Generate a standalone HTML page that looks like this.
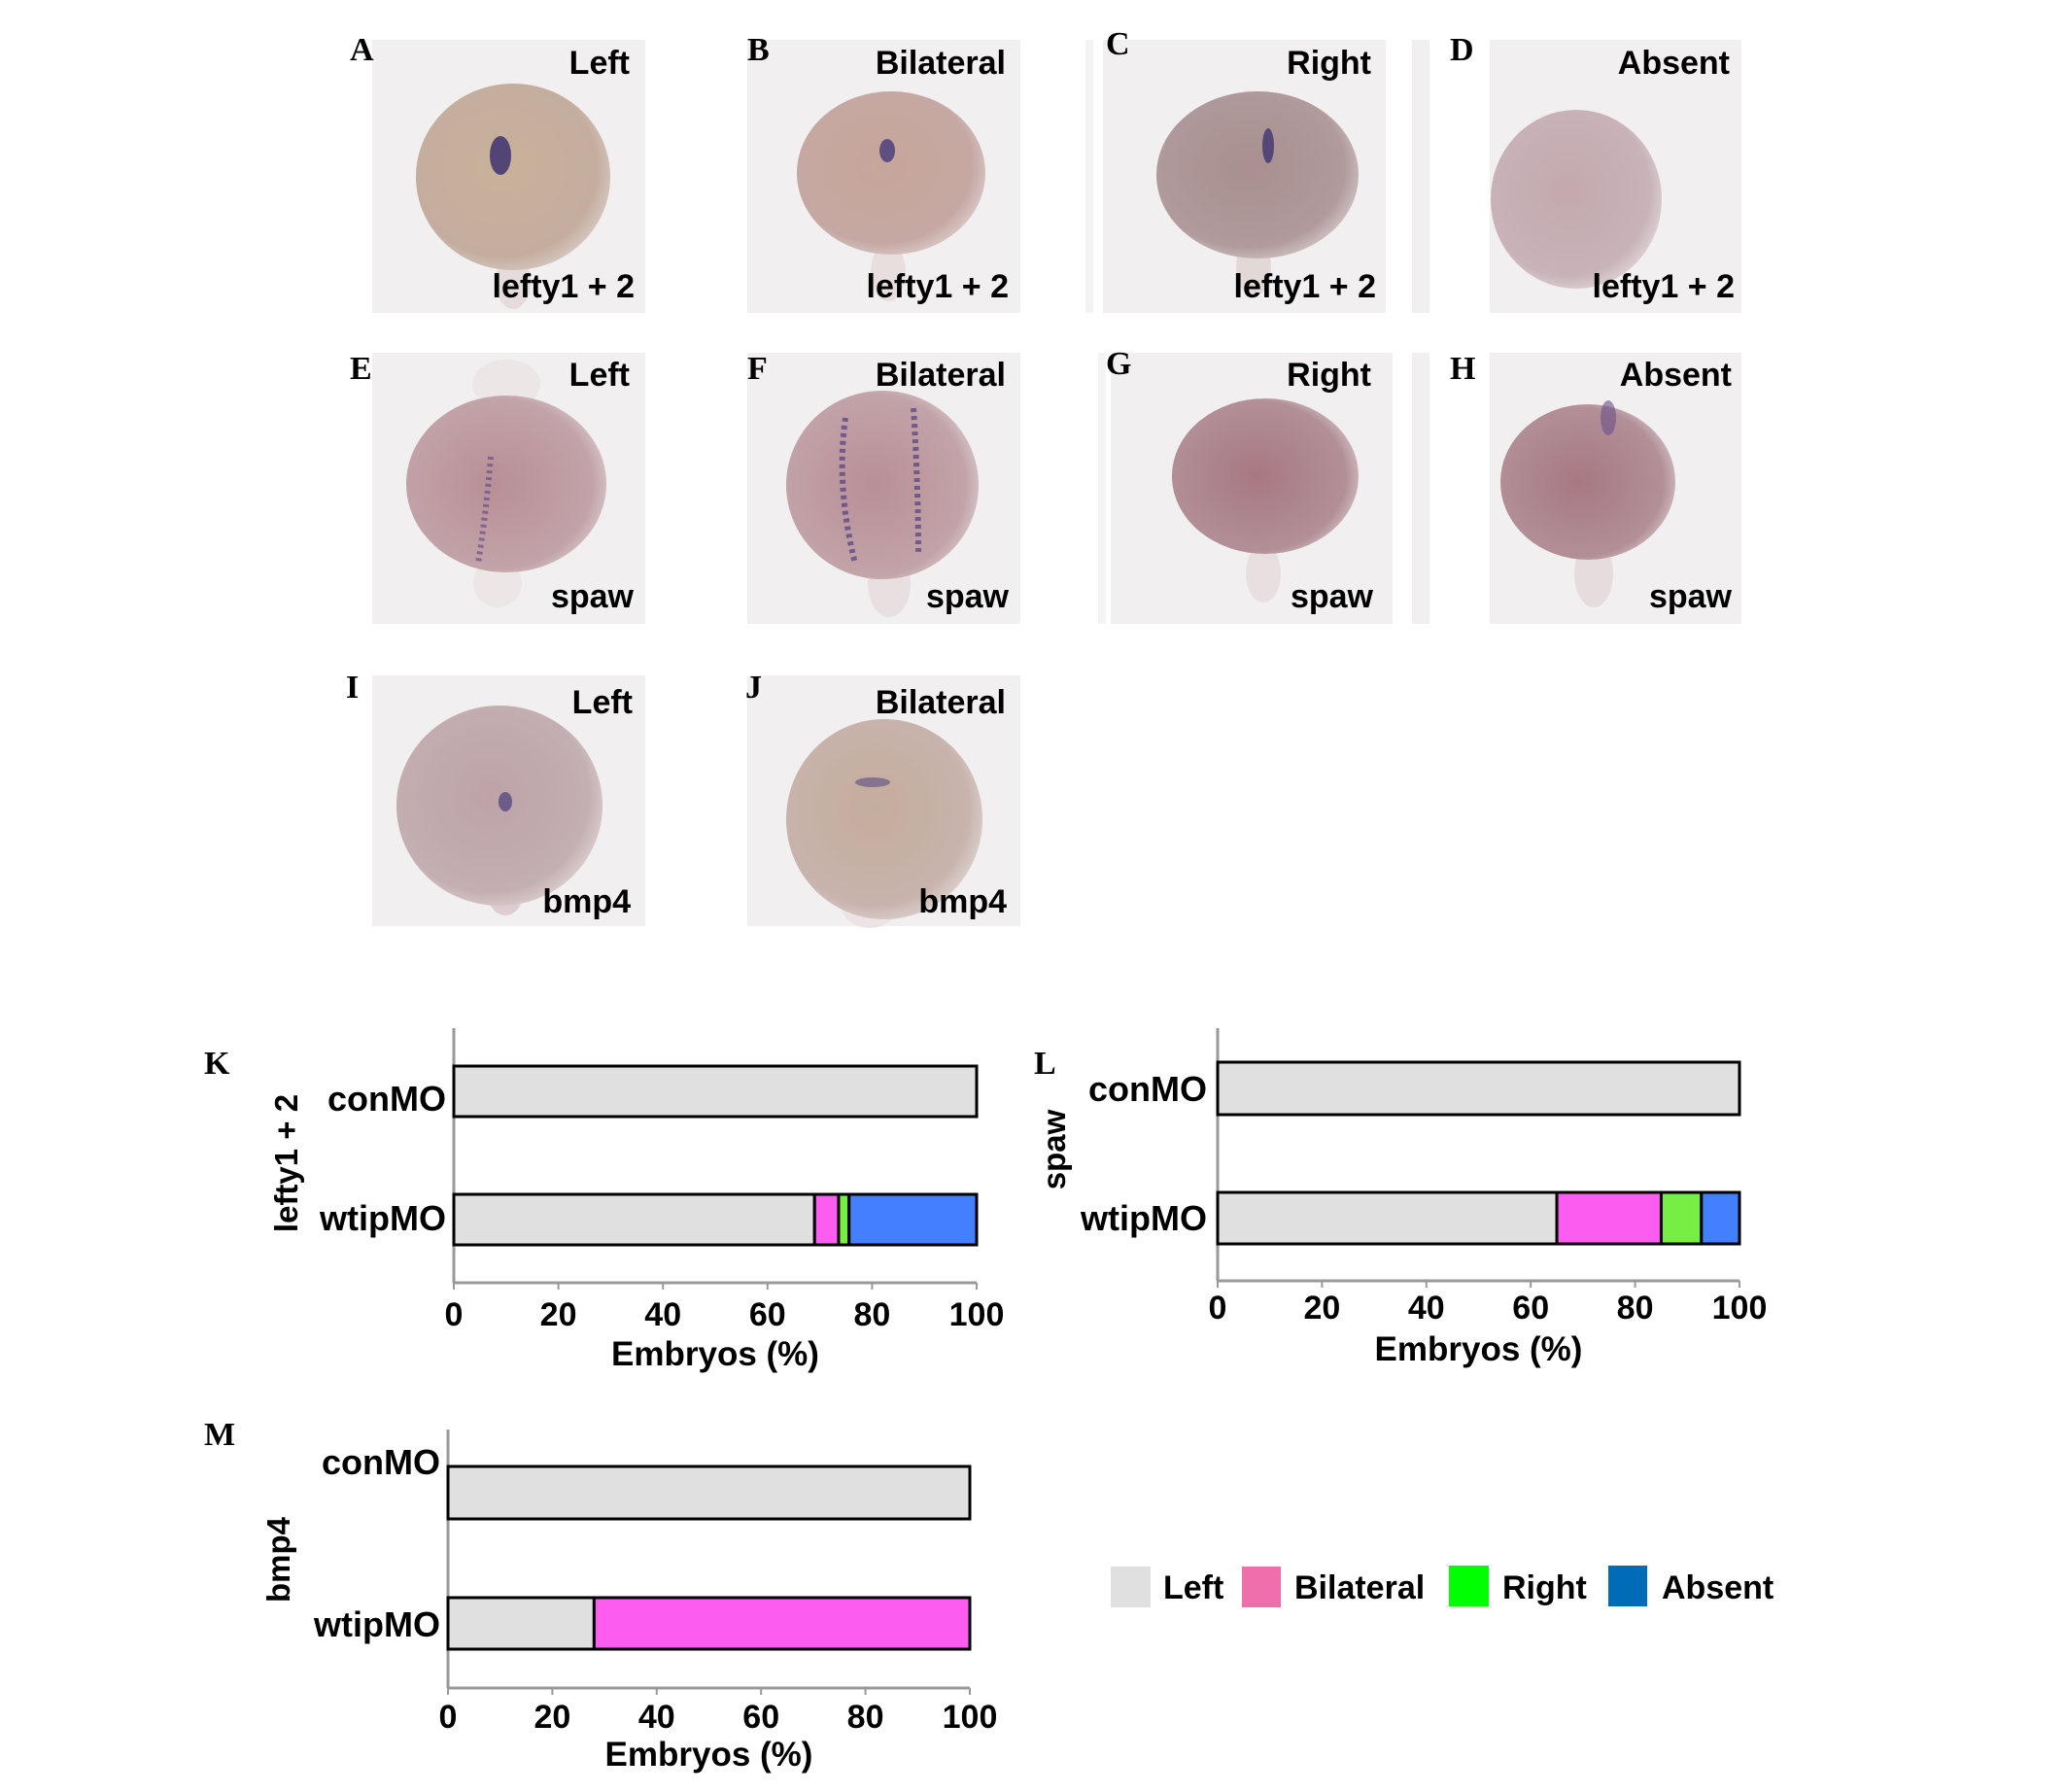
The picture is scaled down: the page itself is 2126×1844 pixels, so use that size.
<!DOCTYPE html>
<html><head><meta charset="utf-8"><style>
html,body{margin:0;padding:0;background:#fff}
svg{display:block}
text{font-family:"Liberation Sans",sans-serif;font-weight:bold;fill:#000}
.lt{font-family:"Liberation Serif",serif;font-weight:bold;font-size:34px}
</style></head><body>
<svg id="fig" width="2126" height="1844" viewBox="0 0 2126 1844" xmlns="http://www.w3.org/2000/svg">
<defs>
<radialGradient id="gA" cx="0.45" cy="0.45" r="0.6"><stop offset="0" stop-color="#c8b299"/><stop offset="0.8" stop-color="#c4ad9e"/><stop offset="1" stop-color="#d9ccc8"/></radialGradient>
<radialGradient id="gB" cx="0.45" cy="0.45" r="0.6"><stop offset="0" stop-color="#c7a69a"/><stop offset="0.8" stop-color="#c5a8a3"/><stop offset="1" stop-color="#dccdcc"/></radialGradient>
<radialGradient id="gC" cx="0.45" cy="0.45" r="0.6"><stop offset="0" stop-color="#a98f8f"/><stop offset="0.8" stop-color="#b09a9b"/><stop offset="1" stop-color="#d3c7c9"/></radialGradient>
<radialGradient id="gD" cx="0.45" cy="0.45" r="0.6"><stop offset="0" stop-color="#c3a9ae"/><stop offset="0.8" stop-color="#c8b3b8"/><stop offset="1" stop-color="#e0d6d8"/></radialGradient>
<radialGradient id="gE" cx="0.45" cy="0.5" r="0.6"><stop offset="0" stop-color="#b98f97"/><stop offset="0.8" stop-color="#c1a3a8"/><stop offset="1" stop-color="#dccfd1"/></radialGradient>
<radialGradient id="gG" cx="0.45" cy="0.5" r="0.6"><stop offset="0" stop-color="#a77882"/><stop offset="0.8" stop-color="#b28f97"/><stop offset="1" stop-color="#d8c9cc"/></radialGradient>
<radialGradient id="gI" cx="0.45" cy="0.45" r="0.6"><stop offset="0" stop-color="#bda3a8"/><stop offset="0.8" stop-color="#c3aeb1"/><stop offset="1" stop-color="#ddd2d3"/></radialGradient>
<radialGradient id="gJ" cx="0.45" cy="0.45" r="0.6"><stop offset="0" stop-color="#c4ad9c"/><stop offset="0.8" stop-color="#c8b3ad"/><stop offset="1" stop-color="#ded4d2"/></radialGradient>
</defs>

<g>
<rect x="383" y="41" width="281" height="281" fill="#f1efef"/>
<ellipse cx="528" cy="290" rx="18" ry="28" fill="#e6dcdc"/>
<ellipse cx="528" cy="182" rx="100" ry="96" fill="url(#gA)"/>
<ellipse cx="515" cy="160" rx="11" ry="20" fill="#3d3270" opacity="0.85"/>
<text x="648" y="76" font-size="34" text-anchor="end">Left</text>
<text x="653" y="306" font-size="34" text-anchor="end">lefty1 + 2</text>
</g>
<text class="lt" x="360" y="62">A</text>

<g>
<rect x="769" y="41" width="281" height="281" fill="#f1efef"/>
<ellipse cx="914" cy="280" rx="18" ry="30" fill="#e8dede"/>
<ellipse cx="917" cy="178" rx="97" ry="84" fill="url(#gB)"/>
<ellipse cx="913" cy="155" rx="8" ry="12" fill="#45387a" opacity="0.8"/>
<text x="1035" y="76" font-size="34" text-anchor="end">Bilateral</text>
<text x="1038" y="306" font-size="34" text-anchor="end">lefty1 + 2</text>
</g>
<text class="lt" x="769" y="62">B</text>

<g>
<rect x="1117" y="41" width="8" height="281" fill="#f3f3f3"/>
<rect x="1135" y="41" width="291" height="281" fill="#f1efef"/>
<ellipse cx="1290" cy="275" rx="18" ry="30" fill="#e3d8d8"/>
<ellipse cx="1294" cy="180" rx="104" ry="86" fill="url(#gC)"/>
<ellipse cx="1305" cy="150" rx="6" ry="18" fill="#3f3571" opacity="0.8"/>
<text x="1411" y="76" font-size="34" text-anchor="end">Right</text>
<text x="1416" y="306" font-size="34" text-anchor="end">lefty1 + 2</text>
</g>
<text class="lt" x="1138" y="56">C</text>

<g>
<rect x="1453" y="41" width="18" height="281" fill="#f1efef"/>
<rect x="1533" y="41" width="259" height="281" fill="#f1efef"/>
<ellipse cx="1622" cy="205" rx="88" ry="92" fill="url(#gD)"/>
<text x="1780" y="76" font-size="34" text-anchor="end">Absent</text>
<text x="1785" y="306" font-size="34" text-anchor="end">lefty1 + 2</text>
</g>
<text class="lt" x="1492" y="62">D</text>

<g>
<rect x="383" y="363" width="281" height="279" fill="#f1efef"/>
<ellipse cx="521" cy="395" rx="35" ry="25" fill="#ece6e6"/>
<ellipse cx="512" cy="600" rx="25" ry="25" fill="#ece6e6"/>
<ellipse cx="521" cy="498" rx="103" ry="91" fill="url(#gE)"/>
<path d="M505 470 Q500 530 492 580" stroke="#5a4580" stroke-width="6" fill="none" stroke-dasharray="3 4" opacity="0.6"/>
<text x="652" y="625" font-size="34" text-anchor="end">spaw</text>
<text x="648" y="397" font-size="34" text-anchor="end">Left</text>
</g>
<text class="lt" x="360" y="390">E</text>

<g>
<rect x="769" y="363" width="281" height="279" fill="#f1efef"/>
<ellipse cx="915" cy="600" rx="22" ry="35" fill="#e8dfe0"/>
<ellipse cx="908" cy="499" rx="99" ry="97" fill="url(#gE)"/>
<path d="M870 430 Q860 500 880 580 M940 420 Q945 500 945 570" stroke="#4e3f85" stroke-width="6" fill="none" stroke-dasharray="4 4" opacity="0.7"/>
<text x="1035" y="397" font-size="34" text-anchor="end">Bilateral</text>
<text x="1038" y="625" font-size="34" text-anchor="end">spaw</text>
</g>
<text class="lt" x="769" y="390">F</text>

<g>
<rect x="1130" y="363" width="8" height="279" fill="#f4f4f4"/>
<rect x="1143" y="363" width="290" height="279" fill="#f1efef"/>
<ellipse cx="1300" cy="590" rx="18" ry="30" fill="#e8dfe0"/>
<ellipse cx="1302" cy="490" rx="96" ry="80" fill="url(#gG)"/>
<text x="1411" y="397" font-size="34" text-anchor="end">Right</text>
<text x="1413" y="625" font-size="34" text-anchor="end">spaw</text>
</g>
<text class="lt" x="1138" y="385">G</text>

<g>
<rect x="1453" y="363" width="18" height="279" fill="#f1efef"/>
<rect x="1533" y="363" width="259" height="279" fill="#f1efef"/>
<ellipse cx="1640" cy="590" rx="20" ry="35" fill="#e6dcdd"/>
<ellipse cx="1634" cy="496" rx="90" ry="80" fill="url(#gG)"/>
<ellipse cx="1655" cy="430" rx="8" ry="18" fill="#6a4e8a" opacity="0.6"/>
<text x="1782" y="397" font-size="34" text-anchor="end">Absent</text>
<text x="1782" y="625" font-size="34" text-anchor="end">spaw</text>
</g>
<text class="lt" x="1492" y="390">H</text>

<g>
<rect x="383" y="695" width="281" height="258" fill="#f1efef"/>
<ellipse cx="520" cy="920" rx="18" ry="22" fill="#ddcdd0"/>
<ellipse cx="514" cy="829" rx="106" ry="103" fill="url(#gI)"/>
<ellipse cx="520" cy="825" rx="7" ry="10" fill="#4a3d7c" opacity="0.7"/>
<text x="651" y="734" font-size="34" text-anchor="end">Left</text>
<text x="649" y="939" font-size="34" text-anchor="end">bmp4</text>
</g>
<text class="lt" x="356" y="718">I</text>

<g>
<rect x="769" y="695" width="281" height="258" fill="#f1efef"/>
<ellipse cx="895" cy="930" rx="30" ry="25" fill="#ece4e4"/>
<ellipse cx="910" cy="843" rx="101" ry="103" fill="url(#gJ)"/>
<ellipse cx="898" cy="805" rx="18" ry="5" fill="#5a4a80" opacity="0.6"/>
<text x="1035" y="734" font-size="34" text-anchor="end">Bilateral</text>
<text x="1036" y="939" font-size="34" text-anchor="end">bmp4</text>
</g>
<text class="lt" x="767" y="718">J</text>

<text class="lt" x="210" y="1105">K</text>
<text class="lt" x="1064" y="1105">L</text>
<text class="lt" x="210" y="1487">M</text>

<g id="chartK"></g>
<g id="chartL"></g>
<g id="chartM"></g>

<g>
<g><rect x="1143" y="1612" width="41" height="42" fill="#e0e0e0"/><text x="1197" y="1645" font-size="34">Left</text></g>
<g><rect x="1278" y="1612" width="40" height="42" fill="#ee6fab"/><text x="1332" y="1645" font-size="34">Bilateral</text></g>
<g><rect x="1491" y="1611" width="41" height="42" fill="#00ff00"/><text x="1546" y="1645" font-size="34">Right</text></g>
<g><rect x="1655" y="1611" width="40" height="42" fill="#006bb6"/><text x="1710" y="1645" font-size="34">Absent</text></g>
</g>
</svg>
<script>
const categories = ["conMO", "wtipMO"];
const seriesNames = ["Left", "Bilateral", "Right", "Absent"];
const seriesColors = ["#e0e0e0", "#fc5cf0", "#77ee44", "#4280ff"];
const tickValues = [0, 20, 40, 60, 80, 100];
const tickLabels = ["0", "20", "40", "60", "80", "100"];
const kLeft = [100, 69];
const kBilateral = [0, 4.6];
const kRight = [0, 2];
const kAbsent = [0, 24.4];
const lLeft = [100, 65];
const lBilateral = [0, 20];
const lRight = [0, 7.7];
const lAbsent = [0, 7.3];
const mLeft = [100, 28];
const mBilateral = [0, 72];
const mRight = [0, 0];
const mAbsent = [0, 0];

const NS = "http://www.w3.org/2000/svg";
function mk(tag, attrs, parent) {
  const e = document.createElementNS(NS, tag);
  for (const k in attrs) e.setAttribute(k, attrs[k]);
  parent.appendChild(e);
  return e;
}
function drawChart(id, geo, series, gene, slug) {
  const g = document.getElementById(id);
  const xs = v => geo.x0 + (geo.x100 - geo.x0) * v / 100;
  const ya = mk("line", {x1: geo.x0, y1: geo.top, x2: geo.x0, y2: geo.bottom, stroke: "#999", "stroke-width": 3}, g);
  
  
  const xa = mk("line", {x1: geo.x0, y1: geo.bottom, x2: xs(100), y2: geo.bottom, stroke: "#999", "stroke-width": 3}, g);
  
  
  tickValues.forEach((v, i) => {
    const t = mk("line", {x1: xs(v), y1: geo.bottom, x2: xs(v), y2: geo.bottom + 7, stroke: "#999", "stroke-width": 2}, g);
    
    
    const tl = mk("text", {x: xs(v), y: geo.tickY + 12, "font-size": 34, "text-anchor": "middle"}, g);
    tl.textContent = tickLabels[i];
    
    
  });
  const xt = mk("text", {x: (geo.x0 + xs(100)) / 2, y: geo.titleY + 12, "font-size": 35, "text-anchor": "middle"}, g);
  xt.textContent = "Embryos (%)";
  
  
  const yt = mk("text", {x: 0, y: 0, "font-size": 33, "text-anchor": "middle", transform: "translate(" + (geo.ylx + 11) + "," + geo.yly + ") rotate(-90)"}, g);
  yt.textContent = gene;
  
  
  categories.forEach((c, ci) => {
    const cl = mk("text", {x: geo.catX, y: geo.catY[ci] + 13, "font-size": 36, "text-anchor": "end"}, g);
    cl.textContent = c;
    
    
    let acc = 0;
    const y0 = geo.barY[ci][0], y1 = geo.barY[ci][1];
    series.forEach((s, si) => {
      const v = s[ci];
      if (v <= 0) return;
      const r = mk("rect", {x: xs(acc), y: y0, width: xs(acc + v) - xs(acc), height: y1 - y0, fill: seriesColors[si], stroke: "#000", "stroke-width": 3}, g);
      
      
      acc += v;
    });
  });
}
drawChart("chartK", {x0: 467, x100: 1005, top: 1058, bottom: 1320, tickY: 1352, titleY: 1393, catX: 459, catY: [1130, 1253], barY: [[1097, 1149], [1229, 1281]], ylx: 295, yly: 1197}, [kLeft, kBilateral, kRight, kAbsent], "lefty1 + 2", "chart-k");
drawChart("chartL", {x0: 1253, x100: 1790, top: 1058, bottom: 1318, tickY: 1345, titleY: 1388, catX: 1242, catY: [1120, 1253], barY: [[1093, 1147], [1227, 1280]], ylx: 1085, yly: 1183}, [lLeft, lBilateral, lRight, lAbsent], "spaw", "chart-l");
drawChart("chartM", {x0: 461, x100: 998, top: 1471, bottom: 1737, tickY: 1766, titleY: 1805, catX: 453, catY: [1504, 1671], barY: [[1509, 1563], [1644, 1697]], ylx: 287, yly: 1605}, [mLeft, mBilateral, mRight, mAbsent], "bmp4", "chart-m");
</script>
</body></html>
